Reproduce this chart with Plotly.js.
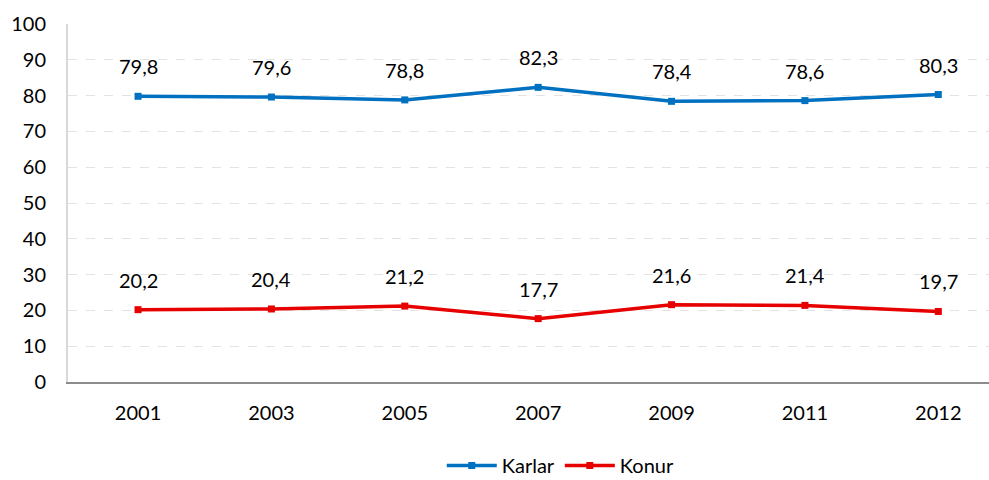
<!DOCTYPE html>
<html>
<head>
<meta charset="utf-8">
<script src="https://cdn.plot.ly/plotly-3.0.1.min.js"></script>
<style>html,body{margin:0;padding:0;background:#fff;}#chart{width:989px;height:480px;}</style>
</head>
<body>
<div id="chart"></div>
<script>
const years = ["2001","2003","2005","2007","2009","2011","2012"];
const karlar = [79.8, 79.6, 78.8, 82.3, 78.4, 78.6, 80.3];
const konur = [20.2, 20.4, 21.2, 17.7, 21.6, 21.4, 19.7];
const yTicks = [0,10,20,30,40,50,60,70,80,90,100];

const fontFam = "Lato, 'Open Sans', sans-serif";
const fs = 20;
const fmt = v => v.toFixed(1).replace('.', ',');

const traces = [
  {x: years, y: karlar, name: 'Karlar', type: 'scatter', mode: 'lines+markers',
   line: {color: '#0070C0', width: 3.5}, marker: {color: '#0070C0', size: 7, symbol: 'square'}},
  {x: years, y: konur, name: 'Konur', type: 'scatter', mode: 'lines+markers',
   line: {color: '#E60000', width: 3.5}, marker: {color: '#E60000', size: 7, symbol: 'square'}}
];

const annotations = [];
[karlar, konur].forEach(arr => {
  arr.forEach((v, i) => {
    annotations.push({x: i, y: v, xref: 'x', yref: 'y', text: fmt(v), showarrow: false, yshift: 30,
      font: {family: fontFam, size: fs, color: '#000'}});
  });
});

const layout = {
  width: 989, height: 480,
  margin: {l: 68, r: 0, t: 24, b: 98},
  paper_bgcolor: '#fff', plot_bgcolor: '#fff',
  font: {family: fontFam, size: fs, color: '#000'},
  showlegend: true,
  legend: {orientation: 'h', xref: 'container', yref: 'container', x: 0.567, xanchor: 'center',
    y: 0.03, yanchor: 'middle', itemwidth: 50,
    font: {family: fontFam, size: fs, color: '#000'}, tracegroupgap: 0},
  xaxis: {type: 'category', range: [-0.525, 6.38], showgrid: false, zeroline: false,
    showline: true, linecolor: '#8c8c8c', linewidth: 2, ticks: '', ticklabelstandoff: 12,
    tickfont: {family: fontFam, size: fs, color: '#000'}, automargin: false},
  yaxis: {range: [0, 100], tickvals: yTicks, ticktext: yTicks.map(String),
    showgrid: true, gridcolor: '#e3e3e3', griddash: 'dash', gridwidth: 1,
    zeroline: false, showline: true, linecolor: '#d9d9d9', linewidth: 2,
    ticks: '', ticklabelstandoff: 16, tickfont: {family: fontFam, size: fs, color: '#000'}, automargin: false},
  annotations: annotations
};

Plotly.newPlot('chart', traces, layout, {displayModeBar: false, staticPlot: true});
</script>
</body>
</html>
